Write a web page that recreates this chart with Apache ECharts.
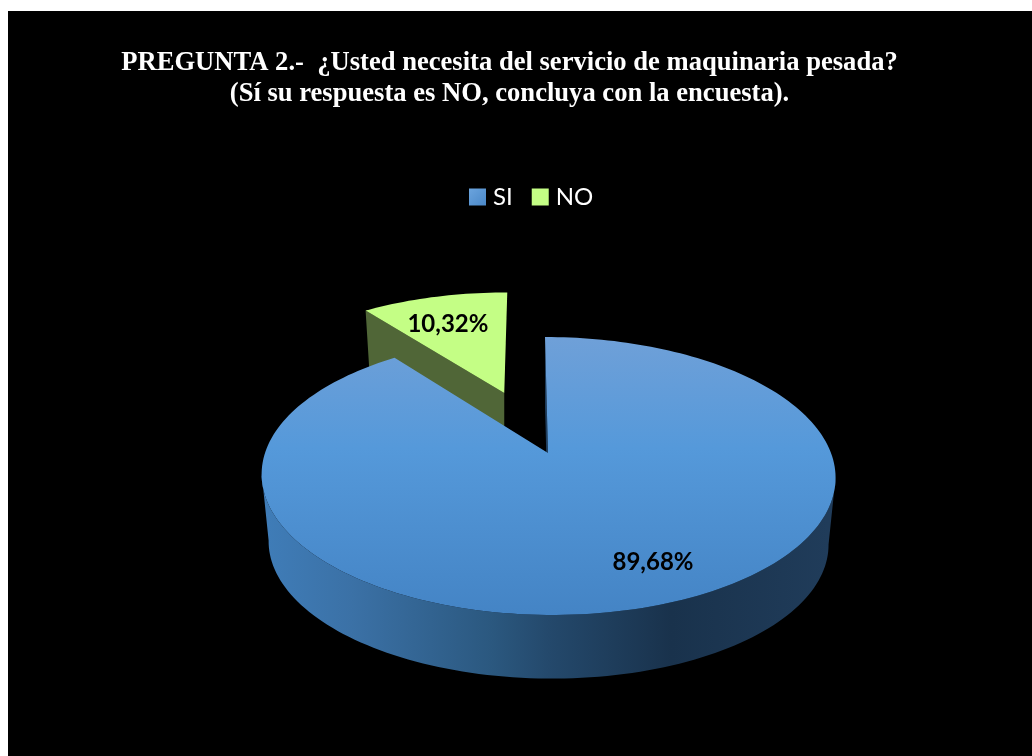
<!DOCTYPE html>
<html>
<head>
<meta charset="utf-8">
<style>html,body{margin:0;padding:0;background:#fff}#chart{width:1032px;height:756px}</style>
<script src="https://cdn.jsdelivr.net/npm/echarts@6/dist/echarts.min.js"></script>
</head>
<body>
<div id="chart"></div>
<script>
const categories = ['SI', 'NO'];
const percentages = [89.68, 10.32];
const titleLines = [
  'PREGUNTA 2.-  ¿Usted necesita del servicio de maquinaria pesada?',
  '(Sí su respuesta es NO, concluya con la encuesta).'
];

// Perspective camera for the tilted disc: unit-disc (u, v) to screen pixels.
const cam = { cx: 548, a: 283, shear: 3.5, ky: 60.2, y0: 453, persp: -0.1655 };
// The underside of the disc is the top face scaled and pushed down.
const depth = { scale: 0.9756, pivotY: 476, drop: 67 };
const explodeNo = 0.505;

function project(u, v) {
  const w = 1 + cam.persp * v;
  return [cam.cx + (cam.a * u + cam.shear * v) / w, (cam.ky * v + cam.y0) / w];
}
function lower(p) {
  return [
    cam.cx + (p[0] - cam.cx) * depth.scale,
    depth.pivotY + (p[1] - depth.pivotY) * depth.scale + depth.drop
  ];
}
const rad = d => d * Math.PI / 180;

// One slice of the pie; angles run clockwise from twelve o'clock.
function sliceGeometry(startDeg, sweepDeg, offset) {
  const midAngle = rad(startDeg + sweepDeg / 2);
  const ox = Math.sin(midAngle) * offset;
  const oy = -Math.cos(midAngle) * offset;
  const at = (deg, r) => project(ox + Math.sin(rad(deg)) * r, oy - Math.cos(rad(deg)) * r);
  const arc = [];
  const steps = Math.max(8, Math.ceil(sweepDeg / 1.5));
  for (let i = 0; i <= steps; i++) arc.push(at(startDeg + sweepDeg * i / steps, 1));
  return { apex: at(0, 0), arc, at };
}

const rimGradient = () => new echarts.graphic.LinearGradient(268, 0, 828, 0, [
  { offset: 0, color: '#3f7cb7' },
  { offset: 0.15, color: '#3b71a6' },
  { offset: 0.4, color: '#2b587f' },
  { offset: 0.5, color: '#24496c' },
  { offset: 0.72, color: '#19324c' },
  { offset: 1, color: '#203c5a' }
], true);
const topGradient = () => new echarts.graphic.LinearGradient(0, 337, 0, 615, [
  { offset: 0, color: '#6fa0d8' },
  { offset: 0.4, color: '#5599da' },
  { offset: 1, color: '#4484c5' }
], true);

const poly = (points, fill, z2) => ({
  type: 'polygon', shape: { points }, style: { fill, stroke: null }, z2: z2 || 0, silent: true
});
const wall = (a, b) => [a, b, lower(b), lower(a)];
const valueLabel = (pos, value) => ({
  type: 'text', z2: 10, silent: true,
  style: {
    x: pos[0], y: pos[1] + 1, text: value.toFixed(2).replace('.', ',') + '%',
    fill: '#000', font: 'bold 24px Lato', align: 'center', verticalAlign: 'middle'
  }
});

function renderSi(params, api) {
  const value = api.value(0);
  const total = percentages.reduce((s, p) => s + p, 0);
  const g = sliceGeometry(0, value / total * 360, 0);
  // The visible side runs between the disc's widest points, clockwise from right to left.
  let right = 0, left = 0;
  g.arc.forEach((p, i) => {
    if (p[0] > g.arc[right][0]) right = i;
    if (p[0] < g.arc[left][0]) left = i;
  });
  const front = g.arc.slice(right, left + 1);
  const rim = front.concat(front.slice().reverse().map(lower));
  return {
    type: 'group',
    children: [
      poly(rim, rimGradient(), 1),
      poly(wall(g.apex, g.arc[0]), '#1f3f60', 2),
      poly([g.apex].concat(g.arc), topGradient(), 3),
      valueLabel(g.at(155.7, 0.775), value)
    ]
  };
}

function renderNo(params, api) {
  const value = api.value(0);
  const total = percentages.reduce((s, p) => s + p, 0);
  const sweep = value / total * 360;
  const g = sliceGeometry(-sweep, sweep, explodeNo);
  const corner = g.arc[0];
  // Cut face seen below the slice; its inner end stays vertical at the apex.
  const cut = [g.apex, corner, lower(corner), [g.apex[0], lower(g.apex)[1]]];
  return {
    type: 'group',
    children: [
      poly(cut, '#506637', 1),
      poly([g.apex].concat(g.arc), '#c4fe85', 3),
      valueLabel(g.at(-20.4, 0.704), value)
    ]
  };
}

const chart = echarts.init(document.getElementById('chart'));
chart.setOption({
  animation: false,
  backgroundColor: '#fff',
  graphic: [{
    type: 'rect', z: -10, silent: true,
    shape: { x: 8, y: 11, width: 1024, height: 745 },
    style: { fill: '#000' }
  }],
  title: {
    text: titleLines.join('\n'),
    left: 504.5,
    top: 42,
    textAlign: 'center',
    textStyle: {
      color: '#fff', fontFamily: '"Liberation Serif"', fontWeight: 'bold', fontSize: 26.6, lineHeight: 31.5
    }
  },
  legend: {
    left: 469,
    top: 185,
    padding: 0,
    itemWidth: 17,
    itemHeight: 17,
    itemGap: 19,
    icon: 'rect',
    textStyle: { color: '#fff', fontFamily: 'Lato', fontSize: 24, padding: [0, 0, 0, 2] },
    data: [
      {
        name: categories[0],
        itemStyle: {
          color: new echarts.graphic.LinearGradient(0, 0, 1, 1, [
            { offset: 0, color: '#6ba4de' },
            { offset: 1, color: '#4a88c8' }
          ])
        }
      },
      { name: categories[1], itemStyle: { color: '#c4fe85' } }
    ]
  },
  series: [
    {
      type: 'custom', name: categories[1], coordinateSystem: 'none', z: 2,
      itemStyle: { color: '#c4fe85' }, data: [[percentages[1]]], renderItem: renderNo
    },
    {
      type: 'custom', name: categories[0], coordinateSystem: 'none', z: 3,
      itemStyle: { color: '#5599da' }, data: [[percentages[0]]], renderItem: renderSi
    }
  ]
});
</script>
</body>
</html>
